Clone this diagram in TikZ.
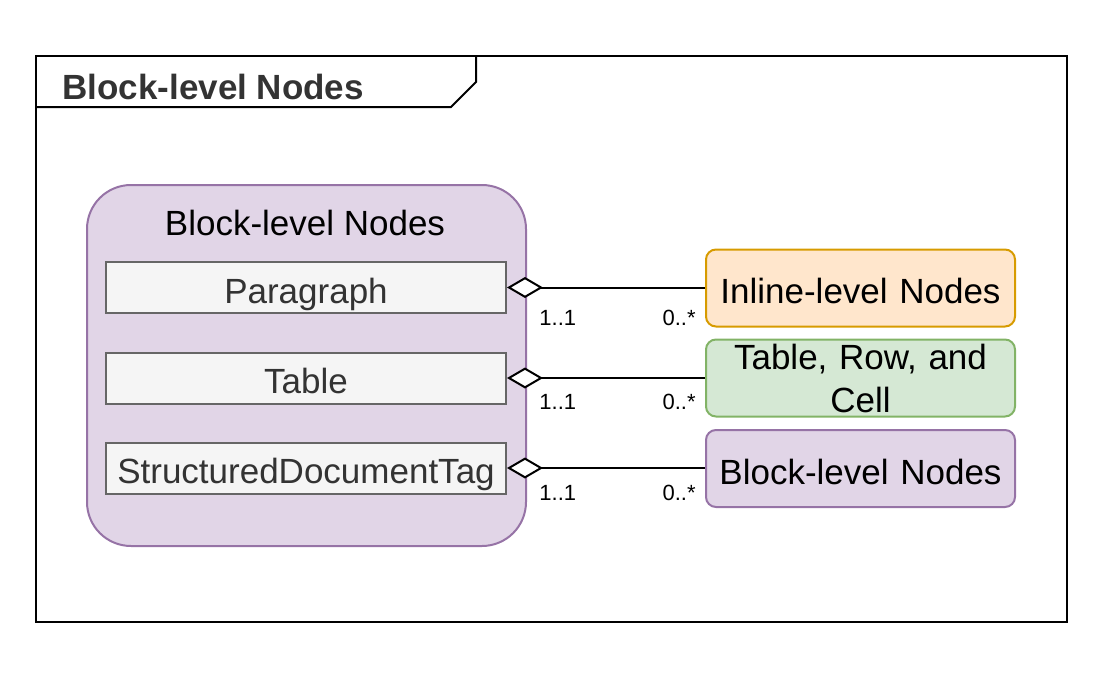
\documentclass[tikz,border=0pt]{standalone}
\usepackage{fontspec}
\setmainfont{Liberation Sans}
\usepackage{tikz}
\usetikzlibrary{arrows.meta}
\definecolor{purpfill}{HTML}{E1D5E7}
\definecolor{purpline}{HTML}{9673A6}
\definecolor{itemfill}{HTML}{F5F5F5}
\definecolor{itemline}{HTML}{666666}
\definecolor{itemtext}{HTML}{333333}
\definecolor{orngfill}{HTML}{FFE6CC}
\definecolor{orngline}{HTML}{D79B00}
\definecolor{grnfill}{HTML}{D5E8D4}
\definecolor{grnline}{HTML}{82B366}

\begin{document}
\begin{tikzpicture}[x=0.5pt,y=-0.5pt,bigtxt/.style={font=\fontsize{17.5}{21.5}\selectfont},oneline/.style={text height=17pt,text depth=1.5pt},item/.style={draw=itemline,fill=itemfill,text=itemtext,line width=1pt,minimum width=200pt,minimum height=25.5pt,inner sep=0pt,bigtxt,oneline},side/.style n args={2}{draw=#1,fill=#2,line width=1pt,rounded corners=5pt,minimum width=154.5pt,minimum height=38.5pt,text width=150pt,align=center,inner sep=0pt,bigtxt},agg/.style={{Diamond[fill=white,length=18pt,width=10.5pt]}-,line width=1pt},mult/.style={font=\fontsize{11}{13}\selectfont,inner sep=0pt}]
\useasboundingbox (0,0) rectangle (1100,680);
% frame with tab
\draw[line width=1pt] (36,56) rectangle (1067,622);
\draw[line width=1pt] (36,107) -- (451,107) -- (476,82) -- (476,56);
\node[anchor=west,inner sep=0pt,text=itemtext,font=\bfseries\fontsize{17.5}{21}\selectfont] (hdr) at (62,87) {Block-level Nodes};
% container
\node[draw=purpline,fill=purpfill,line width=1pt,rounded corners=22pt,minimum width=219.5pt,minimum height=180.5pt] (blk) at (306.5,365.5) {};
\node[bigtxt] (blkttl) at (305,223) {Block-level Nodes};
\node[item] (para) at (306,287.5) {Paragraph};
\node[item] (tbl) at (306,378) {Table};
\node[item] (sdt) at (306,468) {StructuredDocumentTag};
% right side
\node[side={orngline}{orngfill},oneline] (inl) at (860.5,288) {Inline-level Nodes};
\node[side={grnline}{grnfill}] (trc) at (860.5,378) {Table, Row, and\\Cell};
\node[side={purpline}{purpfill},oneline] (sub) at (860.5,468.5) {Block-level Nodes};
\foreach \a/\b/\dy in %
{para/inl/15, tbl/trc/12, sdt/sub/12.5} {
   \draw[agg] (\a.east) -- (\a.east -| \b.west);
   \node[mult,anchor=west] at ([xshift=16pt,yshift=-\dy pt]\a.east) {1..1};
   \node[mult,anchor=east] at ([xshift=-4.5pt,yshift=-\dy pt]\a.east -| \b.west) {0..*};
}
\end{tikzpicture}
\end{document}
